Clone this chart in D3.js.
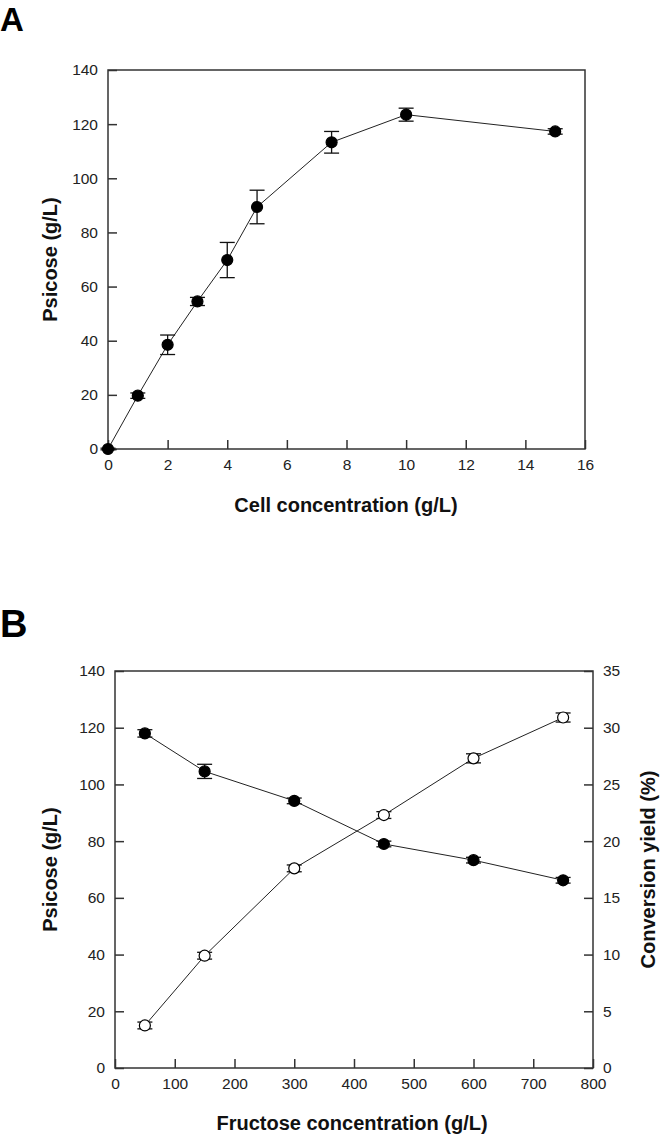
<!DOCTYPE html>
<html><head><meta charset="utf-8">
<script src="https://cdn.jsdelivr.net/npm/d3@7"></script>
<style>body{margin:0;background:#fff}svg{display:block}text{font-family:"Liberation Sans",Arial,sans-serif}</style>
</head><body>
<script>
// Panel A data
const cellConc = [0, 1, 2, 3, 4, 5, 7.5, 10, 15];
const psicoseA = [0, 19.7, 38.5, 54.5, 69.8, 89.4, 113.3, 123.5, 117.3];
const psicoseAErr = [0.3, 1.0, 3.6, 1.5, 6.5, 6.2, 4.0, 2.4, 1.0];
const xTicksA = [0, 2, 4, 6, 8, 10, 12, 14, 16];
const yTicksA = [0, 20, 40, 60, 80, 100, 120, 140];

// Panel B data
const fructoseConc = [50, 150, 300, 450, 600, 750];
const psicoseB = [118.0, 104.6, 94.2, 79.0, 73.3, 66.2];
const psicoseBErr = [1.3, 2.5, 1.0, 1.0, 1.0, 1.0];
const yieldB = [3.75, 9.9, 17.6, 22.3, 27.3, 30.9];
const yieldBErr = [0.3, 0.3, 0.3, 0.3, 0.4, 0.4];
const xTicksB = [0, 100, 200, 300, 400, 500, 600, 700, 800];
const yTicksB = [0, 20, 40, 60, 80, 100, 120, 140];
const yTicksB2 = [0, 5, 10, 15, 20, 25, 30, 35];

const W = 660, H = 1136;
const svg = d3.select("body").append("svg").attr("width", W).attr("height", H);
const frameColor = "#333", tickLen = 9;

function styleAxis(g) {
  g.selectAll("path.domain").remove();
  g.selectAll(".tick line").attr("stroke", frameColor).attr("stroke-width", 1.5);
  g.selectAll(".tick text").attr("fill", "#222").style("font-size", "15.5px");
}

function frame(x0, y0, x1, y1) {
  svg.append("rect").attr("x", x0).attr("y", y0).attr("width", x1 - x0).attr("height", y1 - y0)
    .attr("fill", "none").attr("stroke", frameColor).attr("stroke-width", 1.5);
}

function series(x, y, xs, ys, errs, filled, r) {
  const g = svg.append("g");
  const line = d3.line().x((d, i) => x(xs[i])).y(d => y(d));
  g.append("path").attr("d", line(ys)).attr("fill", "none").attr("stroke", "#222").attr("stroke-width", 1);
  const cap = 7.5;
  ys.forEach((v, i) => {
    const cx = x(xs[i]);
    const t = y(v + errs[i]), b = y(v - errs[i]);
    g.append("line").attr("x1", cx).attr("x2", cx).attr("y1", t).attr("y2", b).attr("stroke", "#111").attr("stroke-width", 1.3);
    g.append("line").attr("x1", cx - cap).attr("x2", cx + cap).attr("y1", t).attr("y2", t).attr("stroke", "#111").attr("stroke-width", 1.3);
    g.append("line").attr("x1", cx - cap).attr("x2", cx + cap).attr("y1", b).attr("y2", b).attr("stroke", "#111").attr("stroke-width", 1.3);
  });
  ys.forEach((v, i) => {
    g.append("circle").attr("cx", x(xs[i])).attr("cy", y(v)).attr("r", r)
      .attr("fill", filled ? "#000" : "#fff").attr("stroke", "#000").attr("stroke-width", 1.2);
  });
}

function title(x, y, txt, rot) {
  svg.append("text").attr("transform", `translate(${x},${y})` + (rot ? " rotate(-90)" : ""))
    .attr("text-anchor", "middle").attr("font-weight", "bold").style("font-size", "20px")
    .attr("fill", "#111").text(txt);
}

// ---------- Panel A ----------
{
  const L = 108, R = 585, T = 70, B = 449;
  const x = d3.scaleLinear().domain([0, 16]).range([L, R]);
  const y = d3.scaleLinear().domain([0, 140]).range([B, T]);
  svg.append("g").attr("transform", `translate(0,${B})`)
    .call(d3.axisBottom(x).tickValues(xTicksA).tickSize(-tickLen).tickPadding(10).tickFormat(d3.format("d")))
    .call(styleAxis);
  svg.append("g").attr("transform", `translate(${L},0)`)
    .call(d3.axisLeft(y).tickValues(yTicksA).tickSize(-tickLen).tickPadding(10).tickFormat(d3.format("d")))
    .call(styleAxis);
  frame(L, T, R, B);
  series(x, y, cellConc, psicoseA, psicoseAErr, true, 5.5);
  svg.append("text").attr("x", 0).attr("y", 31).attr("font-weight", "bold").style("font-size", "33px").text("A");
  title(346, 512, "Cell concentration (g/L)", false);
  title(57, (T + B) / 2, "Psicose (g/L)", true);
}

// ---------- Panel B ----------
{
  const L = 115, R = 593, T = 671, B = 1068;
  const x = d3.scaleLinear().domain([0, 800]).range([L, R]);
  const y = d3.scaleLinear().domain([0, 140]).range([B, T]);
  const y2 = d3.scaleLinear().domain([0, 35]).range([B, T]);
  svg.append("g").attr("transform", `translate(0,${B})`)
    .call(d3.axisBottom(x).tickValues(xTicksB).tickSize(-tickLen).tickPadding(10).tickFormat(d3.format("d")))
    .call(styleAxis);
  svg.append("g").attr("transform", `translate(${L},0)`)
    .call(d3.axisLeft(y).tickValues(yTicksB).tickSize(-tickLen).tickPadding(10).tickFormat(d3.format("d")))
    .call(styleAxis);
  svg.append("g").attr("transform", `translate(${R},0)`)
    .call(d3.axisRight(y2).tickValues(yTicksB2).tickSize(-tickLen).tickPadding(10).tickFormat(d3.format("d")))
    .call(styleAxis);
  frame(L, T, R, B);
  series(x, y, fructoseConc, psicoseB, psicoseBErr, true, 5.5);
  series(x, y2, fructoseConc, yieldB, yieldBErr, false, 5.5);
  svg.append("text").attr("x", 0).attr("y", 637).attr("font-weight", "bold").style("font-size", "38px").text("B");
  title(352, 1130, "Fructose concentration (g/L)", false);
  title(57, (T + B) / 2, "Psicose (g/L)", true);
  title(655, (T + B) / 2, "Conversion yield (%)", true);
}
</script>
</body></html>
